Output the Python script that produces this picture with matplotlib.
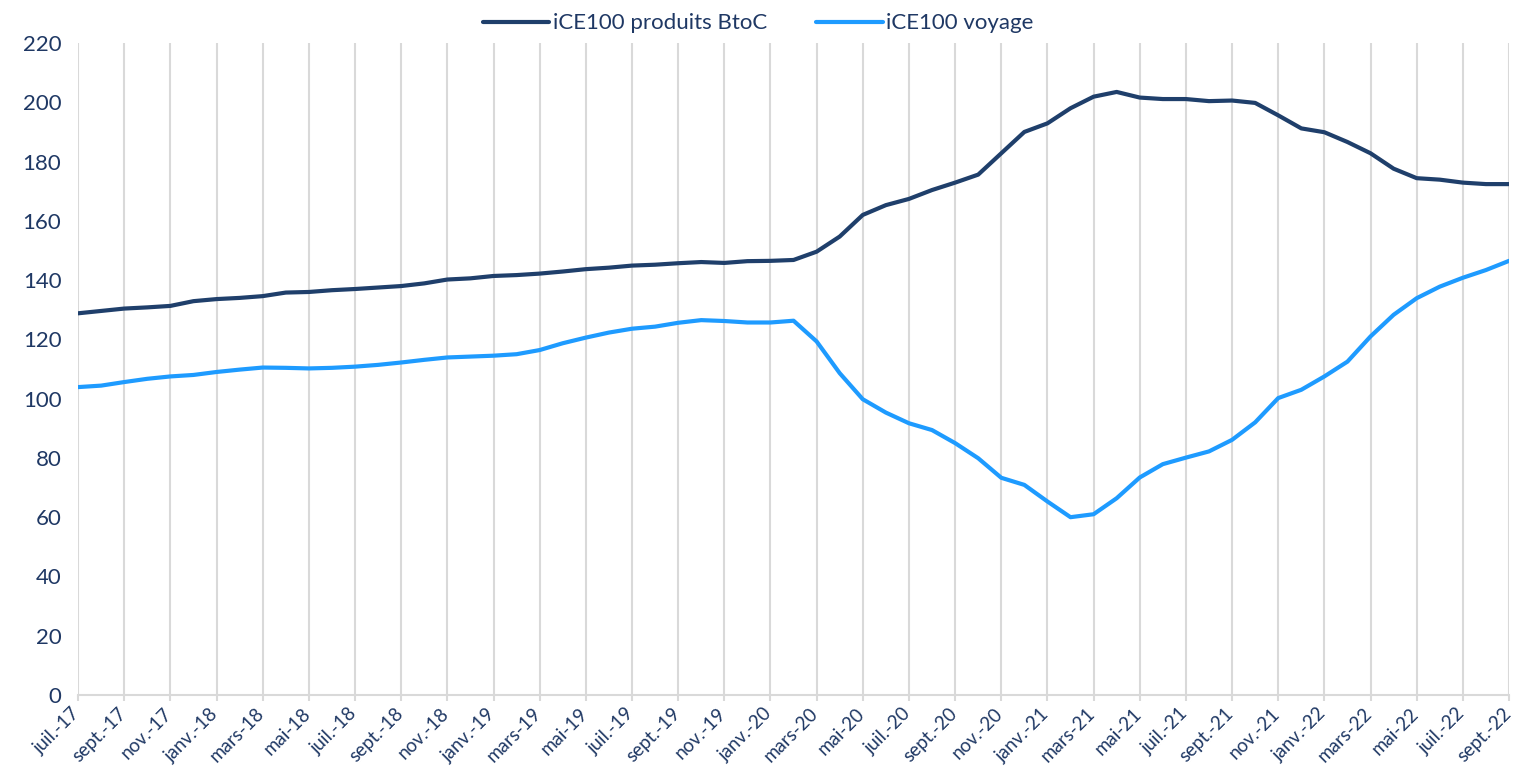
import numpy as np
import matplotlib
matplotlib.use("Agg")
import matplotlib.pyplot as plt
import matplotlib.transforms as mtransforms

# monthly index values, juil.-17 .. sept.-22
mois = ["janv.", "févr.", "mars", "avr.", "mai", "juin",
        "juil.", "août", "sept.", "oct.", "nov.", "déc."]
labels = []
for i in range(63):
    m = (6 + i) % 12
    an = 17 + (6 + i) // 12
    labels.append("{}-{}".format(mois[m], an))

btoc = [128.8, 129.6, 130.4, 130.8, 131.3, 132.9, 133.6, 134.0, 134.6, 135.8,
        136.0, 136.6, 137.0, 137.5, 138.0, 138.9, 140.2, 140.6, 141.4, 141.7,
        142.2, 142.9, 143.7, 144.2, 144.9, 145.2, 145.7, 146.1, 145.8, 146.4,
        146.5, 146.8, 149.6, 154.7, 162.0, 165.3, 167.4, 170.4, 172.9, 175.6,
        182.8, 190.0, 192.9, 198.0, 201.9, 203.5, 201.6, 201.1, 201.1, 200.4,
        200.6, 199.8, 195.6, 191.2, 189.9, 186.6, 182.8, 177.6, 174.4, 173.9,
        172.9, 172.4, 172.4]
voyage = [103.9, 104.4, 105.6, 106.7, 107.5, 108.0, 109.0, 109.8, 110.5, 110.4,
          110.2, 110.4, 110.8, 111.4, 112.2, 113.1, 113.9, 114.2, 114.5, 115.0,
          116.4, 118.7, 120.6, 122.3, 123.6, 124.3, 125.6, 126.5, 126.2, 125.7,
          125.7, 126.3, 119.3, 108.6, 99.8, 95.3, 91.7, 89.4, 85.0, 79.9,
          73.3, 70.9, 65.3, 60.0, 61.0, 66.4, 73.4, 77.9, 80.1, 82.2,
          86.1, 92.0, 100.2, 103.0, 107.5, 112.5, 121.0, 128.3, 133.9, 137.8,
          140.8, 143.4, 146.5]

navy = "#1F3F6B"
bleu = "#1E9BFF"
txt = "#1F3864"
plt.rcParams['font.family'] = ['Lato', 'DejaVu Sans']

fig = plt.figure(figsize=(15.16, 7.7), dpi=100)
ax = fig.add_axes([0.0515, 0.0974, 0.9439, 0.8467])
x = np.arange(len(labels))
ax.plot(x, btoc, color=navy, lw=3.0, solid_joinstyle='round', solid_capstyle='round',
        label="iCE100 produits BtoC", zorder=3)
ax.plot(x, voyage, color=bleu, lw=3.0, solid_joinstyle='round', solid_capstyle='round',
        label="iCE100 voyage", zorder=3)

ax.set_xlim(0, len(labels) - 1)
ax.set_ylim(0, 220)
ax.set_yticks(np.arange(0, 221, 20))
ax.set_xticks(x[::2])
ax.set_xticklabels([])
# rotated month labels, anchored just left of each tick
trans = (mtransforms.blended_transform_factory(ax.transData, ax.transAxes)
         + mtransforms.ScaledTranslation(-0.07, -0.1, fig.dpi_scale_trans))
for xi in x[::2]:
    ax.text(xi, 0, labels[xi], transform=trans, rotation=45, ha='right', va='top',
            rotation_mode='anchor', fontsize=13.5, color=txt, clip_on=False)
ax.tick_params(axis='y', length=0, labelsize=16, labelcolor=txt, pad=12)
ax.tick_params(axis='x', length=4, width=1.5, color="#D9D9D9")
ax.grid(axis='x', color="#D9D9D9", lw=1.5)
for s in ['top', 'right', 'left']:
    ax.spines[s].set_visible(False)
ax.spines['bottom'].set_color("#D9D9D9")
ax.spines['bottom'].set_linewidth(1.5)

fig.legend(loc='upper center', bbox_to_anchor=(0.5, 1.0), ncol=2, frameon=False,
           fontsize=16, labelcolor=txt, handlelength=3.0, handletextpad=0.15,
           columnspacing=2.2, borderaxespad=0.2)

fig.savefig("out.png", dpi=100)
